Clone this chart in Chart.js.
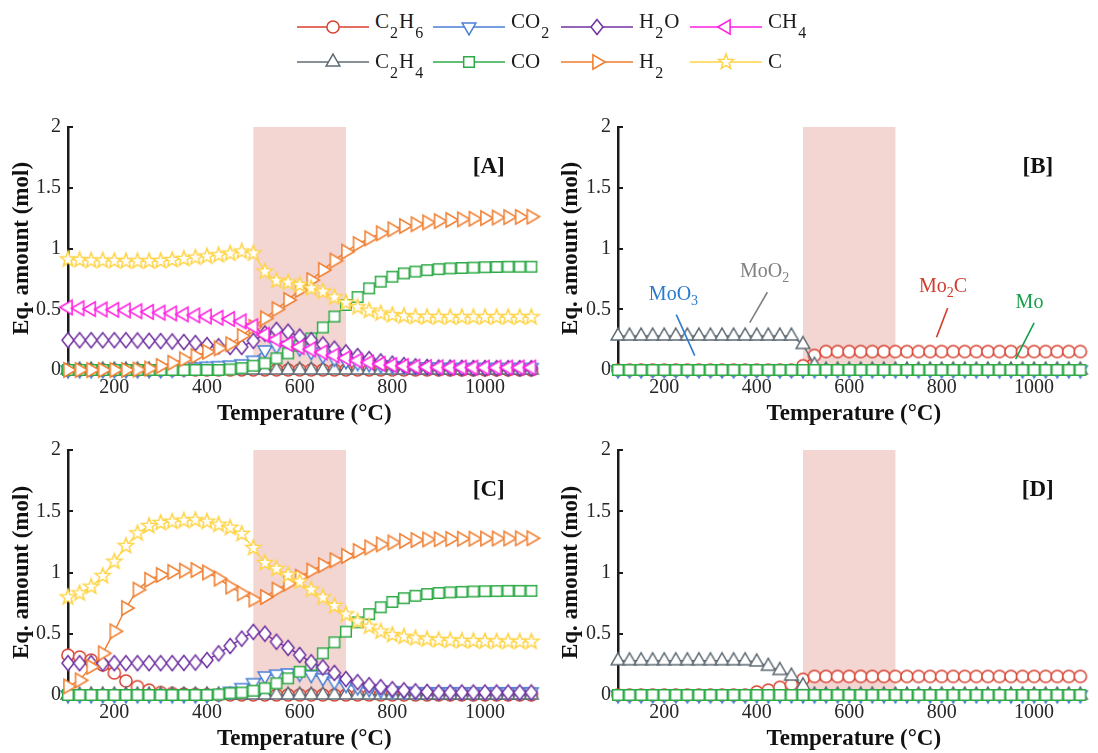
<!DOCTYPE html>
<html>
<head>
<meta charset="utf-8">
<script src="https://cdn.jsdelivr.net/npm/chart.js@4.4.0/dist/chart.umd.min.js"></script>
<style>
  html, body { margin: 0; padding: 0; background: #ffffff; }
  body { width: 1098px; height: 753px; position: relative; overflow: hidden;
         font-family: "Liberation Serif", "Times New Roman", serif; }
  canvas.panel { position: absolute; }
  .leg-mark { position: absolute; }
  .leg-text { position: absolute; font-size: 21px; line-height: 20px; color: #1a1a1a; white-space: nowrap; }
  .leg-text sub { font-size: 16px; position: relative; top: 10px; vertical-align: baseline; line-height: 0; margin: 0 1px; }
</style>
</head>
<body>
<div id="legend"></div>
<canvas id="panelA" class="panel" width="549" height="338" style="left:0px;top:90px"></canvas>
<canvas id="panelB" class="panel" width="549" height="338" style="left:549px;top:90px"></canvas>
<canvas id="panelC" class="panel" width="549" height="340" style="left:0px;top:413px"></canvas>
<canvas id="panelD" class="panel" width="549" height="340" style="left:549px;top:413px"></canvas>
<script>
// ---------- data ----------
const temperature = [100,125,150,175,200,225,250,275,300,325,
                     350,375,400,425,450,475,500,525,550,575,
                     600,625,650,675,700,725,750,775,800,825,
                     850,875,900,925,950,975,1000,1025,1050,1075,
                     1100];
const xTicks = [200, 400, 600, 800, 1000];
const yTicks = [0, 0.5, 1, 1.5, 2];
const transitionWindow = [500, 700];

// [A] gas phase
const A_C2H6 = [0,0,0,0,0,0,0,0,0,0, 0,0,0,0,0,0,0,0,0,0, 0,0,0,0,0,0,0,0,0,0, 0,0,0,0,0,0,0,0,0,0, 0];
const A_C2H4 = [0,0,0,0,0,0,0,0,0,0, 0,0,0,0,0,0,0,0,0,0, 0,0,0,0,0,0,0,0,0,0, 0,0,0,0,0,0,0,0,0,0, 0];
const A_CO2 = [0,0,0,0,0,0,0,0,0,0.005,
               0.01,0.025,0.03,0.035,0.04,0.05,0.08,0.165,0.2,0.2,
               0.18,0.15,0.12,0.095,0.075,0.06,0.05,0.04,0.035,0.03,
               0.025,0.025,0.022,0.02,0.02,0.02,0.02,0.02,0.02,0.02,
               0.02];
const A_CO = [0,0,0,0,0,0,0,0,0,0,
              0,0,0,0,0.005,0.015,0.035,0.055,0.096,0.137,
              0.2,0.26,0.35,0.44,0.535,0.6,0.672,0.727,0.768,0.795,
              0.81,0.822,0.83,0.836,0.84,0.843,0.846,0.848,0.85,0.85,
              0.85];
const A_H2O = [0.245,0.245,0.245,0.245,0.245,0.245,0.243,0.24,0.238,0.235,
               0.23,0.222,0.205,0.195,0.19,0.19,0.24,0.3,0.33,0.315,
               0.275,0.245,0.21,0.175,0.145,0.115,0.09,0.07,0.052,0.04,
               0.03,0.025,0.02,0.02,0.018,0.016,0.015,0.015,0.015,0.015,
               0.015];
const A_H2 = [0,0,0,0,0,0,0.004,0.012,0.033,0.06,
              0.088,0.115,0.15,0.178,0.212,0.28,0.355,0.425,0.5,0.576,
              0.658,0.74,0.823,0.9,0.974,1.037,1.084,1.125,1.158,1.185,
              1.2,1.215,1.225,1.235,1.24,1.245,1.25,1.255,1.258,1.26,
              1.262];
const A_CH4 = [0.515,0.508,0.502,0.498,0.495,0.49,0.484,0.478,0.472,0.466,
               0.458,0.45,0.44,0.43,0.42,0.4,0.36,0.29,0.25,0.215,
               0.19,0.17,0.145,0.12,0.097,0.078,0.062,0.05,0.04,0.032,
               0.027,0.024,0.022,0.02,0.02,0.02,0.02,0.02,0.02,0.02,
               0.02];
const A_C = [0.91,0.905,0.9,0.9,0.898,0.895,0.895,0.895,0.897,0.905,
             0.915,0.925,0.935,0.945,0.958,0.975,0.96,0.81,0.735,0.72,
             0.7,0.672,0.645,0.598,0.554,0.516,0.488,0.466,0.452,0.443,
             0.438,0.436,0.435,0.435,0.435,0.435,0.435,0.435,0.435,0.435,
             0.435];

// [C] gas phase
const C_C2H6 = [0.325,0.31,0.285,0.245,0.18,0.115,0.068,0.04,0.02,0.012,
                0.008,0.005,0.003,0,0,0,0,0,0,0,
                0,0,0,0,0,0,0,0,0,0,
                0,0,0,0,0,0,0,0,0,0,
                0];
const C_C2H4 = [0,0,0,0,0,0,0,0,0,0, 0,0,0,0,0,0,0,0,0,0, 0,0,0,0,0,0,0,0,0,0, 0,0,0,0,0,0,0,0,0,0, 0];
const C_CO2 = [0,0,0,0,0,0,0,0,0,0,
               0,0,0,0.01,0.03,0.06,0.1,0.155,0.17,0.18,
               0.175,0.165,0.14,0.11,0.085,0.065,0.05,0.04,0.035,0.03,
               0.025,0.025,0.025,0.025,0.025,0.025,0.025,0.025,0.025,0.025,
               0.025];
const C_CO = [0,0,0,0,0,0,0,0,0,0,
              0,0,0,0.005,0.015,0.02,0.035,0.055,0.095,0.136,
              0.19,0.245,0.34,0.43,0.517,0.593,0.66,0.716,0.76,0.79,
              0.81,0.824,0.833,0.838,0.842,0.845,0.847,0.848,0.85,0.85,
              0.85];
const C_H2O = [0.26,0.26,0.26,0.258,0.26,0.26,0.26,0.26,0.26,0.26,
               0.262,0.265,0.285,0.34,0.4,0.46,0.515,0.5,0.435,0.385,
               0.327,0.267,0.225,0.18,0.13,0.105,0.08,0.064,0.047,0.038,
               0.03,0.025,0.02,0.02,0.02,0.02,0.02,0.02,0.02,0.02,
               0.02];
const C_H2 = [0.07,0.12,0.23,0.34,0.52,0.71,0.86,0.94,0.98,1.005,
              1.015,1.02,1.0,0.95,0.885,0.83,0.78,0.8,0.86,0.91,
              0.965,1.015,1.06,1.1,1.135,1.175,1.205,1.23,1.245,1.258,
              1.265,1.27,1.272,1.274,1.275,1.276,1.277,1.278,1.278,1.279,
              1.28];
const C_C = [0.797,0.83,0.884,0.971,1.088,1.216,1.32,1.38,1.405,1.415,
             1.423,1.428,1.415,1.39,1.365,1.315,1.2,1.078,1.03,0.98,
             0.925,0.86,0.796,0.727,0.658,0.6,0.558,0.518,0.49,0.476,
             0.463,0.455,0.449,0.445,0.442,0.44,0.438,0.437,0.436,0.435,
             0.435];

// [B] solid phase
const B_Mo2C = [0,0,0,0,0,0,0,0,0,0,
                0,0,0,0,0,0,0.035,0.12,0.152,0.152,
                0.152,0.152,0.152,0.152,0.152,0.152,0.152,0.152,0.152,0.152,
                0.152,0.152,0.152,0.152,0.152,0.152,0.152,0.152,0.152,0.152,
                0.152];
const B_MoO2 = [0.28,0.28,0.28,0.28,0.28,0.28,0.28,0.28,0.28,0.28,
                0.28,0.28,0.28,0.28,0.28,0.28,0.21,0.04,0,0,
                0,0,0,0,0,0,0,0,0,0,
                0,0,0,0,0,0,0,0,0,0,
                0];
const B_MoO3 = [0,0,0,0,0,0,0,0,0,0, 0,0,0,0,0,0,0,0,0,0, 0,0,0,0,0,0,0,0,0,0, 0,0,0,0,0,0,0,0,0,0, 0];
const B_Mo = [0,0,0,0,0,0,0,0,0,0, 0,0,0,0,0,0,0,0,0,0, 0,0,0,0,0,0,0,0,0,0, 0,0,0,0,0,0,0,0,0,0, 0];

// [D] solid phase
const D_Mo2C = [0,0,0,0,0,0,0,0,0,0,
                0,0,0.025,0.04,0.063,0.087,0.128,0.152,0.152,0.152,
                0.152,0.152,0.152,0.152,0.152,0.152,0.152,0.152,0.152,0.152,
                0.152,0.152,0.152,0.152,0.152,0.152,0.152,0.152,0.152,0.152,
                0.152];
const D_MoO2 = [0.28,0.28,0.28,0.28,0.28,0.28,0.28,0.28,0.28,0.28,
                0.28,0.28,0.27,0.235,0.2,0.155,0.075,0,0,0,
                0,0,0,0,0,0,0,0,0,0,
                0,0,0,0,0,0,0,0,0,0,
                0];
const D_MoO3 = [0,0,0,0,0,0,0,0,0,0, 0,0,0,0,0,0,0,0,0,0, 0,0,0,0,0,0,0,0,0,0, 0,0,0,0,0,0,0,0,0,0, 0];
const D_Mo = [0,0,0,0,0,0,0,0,0,0, 0,0,0,0,0,0,0,0,0,0, 0,0,0,0,0,0,0,0,0,0, 0,0,0,0,0,0,0,0,0,0, 0];

// ---------- styles ----------
const SERIF = '"Liberation Serif", "Times New Roman", serif';
const looks = {
  red:    { color: '#D7402F', marker: 'circle' },
  gray:   { color: '#5F6B73', marker: 'triangleUp' },
  blue:   { color: '#4A7FD6', marker: 'triangleDown' },
  green:  { color: '#2EAA47', marker: 'square' },
  purple: { color: '#7030A0', marker: 'diamond' },
  orange: { color: '#F07D2E', marker: 'triangleRight' },
  pink:   { color: '#FF1FDF', marker: 'triangleLeft' },
  yellow: { color: '#FFD447', marker: 'star' }
};

// species in drawing order (first drawn at the bottom)
const gasSpecies = ['C2H6', 'C2H4', 'CO2', 'CO', 'H2O', 'H2', 'CH4', 'C'];
const gasLooks = ['red', 'gray', 'blue', 'green', 'purple', 'orange', 'pink', 'yellow'];
const solidSpecies = ['Mo2C', 'MoO2', 'MoO3', 'Mo'];
const solidLooks = ['red', 'gray', 'blue', 'green'];

// ---------- marker glyphs ----------
function traceMarker(ctx, shape, cx, cy) {
  ctx.beginPath();
  const tri = (R, a) => {
    for (let k = 0; k < 3; k++) {
      const ang = a + k * 2 * Math.PI / 3;
      const px = cx + R * Math.cos(ang), py = cy + R * Math.sin(ang);
      if (k === 0) ctx.moveTo(px, py); else ctx.lineTo(px, py);
    }
    ctx.closePath();
  };
  switch (shape) {
    case 'circle': ctx.arc(cx, cy, 6.1, 0, Math.PI * 2); break;
    case 'square': ctx.rect(cx - 5.3, cy - 5.3, 10.6, 10.6); break;
    case 'diamond':
      ctx.moveTo(cx, cy - 7.5); ctx.lineTo(cx + 6, cy); ctx.lineTo(cx, cy + 7.5); ctx.lineTo(cx - 6, cy); ctx.closePath(); break;
    case 'triangleUp': tri(7.9, -Math.PI / 2); break;
    case 'triangleDown': tri(7.9, Math.PI / 2); break;
    case 'triangleRight': tri(8.2, 0); break;
    case 'triangleLeft': tri(8.2, Math.PI); break;
    case 'star':
      for (let k = 0; k < 10; k++) {
        const r = k % 2 === 0 ? 8.0 : 3.3;
        const ang = -Math.PI / 2 + k * Math.PI / 5;
        const px = cx + r * Math.cos(ang), py = cy + r * Math.sin(ang);
        if (k === 0) ctx.moveTo(px, py); else ctx.lineTo(px, py);
      }
      ctx.closePath(); break;
  }
}
function strokeMarker(ctx, shape, color, cx, cy) {
  traceMarker(ctx, shape, cx, cy);
  ctx.fillStyle = '#ffffff';
  ctx.fill();
  ctx.strokeStyle = color;
  ctx.lineWidth = 1.5;
  ctx.lineJoin = 'miter';
  ctx.stroke();
}
const glyphCache = {};
function markerImage(shape, color) {
  const key = shape + color;
  if (!glyphCache[key]) {
    const c = document.createElement('canvas');
    c.width = 22; c.height = 22;
    strokeMarker(c.getContext('2d'), shape, color, 11, 11);
    glyphCache[key] = c;
  }
  return glyphCache[key];
}

// text with numeric subscripts on a canvas, centred on (cx, cy)
function drawChem(ctx, text, cx, cy, size, color, weight) {
  const parts = text.split(/(\d+)/).filter(Boolean).map(t => ({ t, sub: /^\d+$/.test(t) }));
  const mainFont = (weight || '') + ' ' + size + 'px ' + SERIF;
  const subFont = Math.round(size * 0.68) + 'px ' + SERIF;
  let w = 0;
  parts.forEach(p => { ctx.font = p.sub ? subFont : mainFont; p.w = ctx.measureText(p.t).width; w += p.w; });
  let x = cx - w / 2;
  const base = cy + size * 0.33;
  ctx.fillStyle = color;
  ctx.textBaseline = 'alphabetic';
  ctx.textAlign = 'left';
  parts.forEach(p => {
    ctx.font = p.sub ? subFont : mainFont;
    ctx.fillText(p.t, x, p.sub ? base + size * 0.25 : base);
    x += p.w;
  });
}

// ---------- plugins ----------
const windowBand = {
  id: 'windowBand',
  beforeDatasetsDraw(chart) {
    const { ctx, chartArea, scales: { x } } = chart;
    const x0 = x.getPixelForValue(transitionWindow[0]);
    const x1 = x.getPixelForValue(transitionWindow[1]);
    ctx.save();
    ctx.fillStyle = '#F3D5D2';
    ctx.fillRect(x0, chartArea.top, x1 - x0, chartArea.bottom - chartArea.top);
    ctx.restore();
  }
};
const innerTicks = {
  id: 'innerTicks',
  beforeDatasetsDraw(chart) {
    const { ctx, chartArea, scales: { y } } = chart;
    ctx.save();
    ctx.strokeStyle = '#1a1a1a';
    ctx.lineWidth = 2;
    y.ticks.forEach(t => {
      const py = Math.round(y.getPixelForValue(t.value));
      ctx.beginPath();
      ctx.moveTo(chartArea.left, py);
      ctx.lineTo(chartArea.left + 5, py);
      ctx.stroke();
    });
    ctx.restore();
  }
};
const panelNotes = {
  id: 'panelNotes',
  afterDatasetsDraw(chart, args, opts) {
    const { ctx, scales: { x, y } } = chart;
    ctx.save();
    if (opts.tag) {
      ctx.font = 'bold 23px ' + SERIF;
      ctx.fillStyle = '#111111';
      ctx.textAlign = 'center';
      ctx.textBaseline = 'middle';
      ctx.fillText(opts.tag, x.getPixelForValue(1008), y.getPixelForValue(1.67));
    }
    (opts.phases || []).forEach(n => {
      ctx.strokeStyle = n.color;
      ctx.lineWidth = 1.6;
      ctx.beginPath();
      ctx.moveTo(x.getPixelForValue(n.leader[0][0]), y.getPixelForValue(n.leader[0][1]));
      ctx.lineTo(x.getPixelForValue(n.leader[1][0]), y.getPixelForValue(n.leader[1][1]));
      ctx.stroke();
      drawChem(ctx, n.text, x.getPixelForValue(n.at[0]), y.getPixelForValue(n.at[1]), 20, n.color);
    });
    ctx.restore();
  }
};

// phase labels on the solid-phase panel
const phaseLabels = [
  { text: 'MoO3', color: '#2A7BD0', at: [220, 0.63],  leader: [[226, 0.456], [266, 0.118]] },
  { text: 'MoO2', color: '#808080', at: [417, 0.82],  leader: [[423, 0.64],  [385, 0.39]] },
  { text: 'Mo2C', color: '#D03B2B', at: [803, 0.695], leader: [[813, 0.51],  [789, 0.27]] },
  { text: 'Mo',   color: '#15A04A', at: [990, 0.566], leader: [[1000, 0.387], [960, 0.09]] }
];

// ---------- panels ----------
Chart.defaults.font.family = SERIF;

function buildPanel(id, tag, names, lookKeys, seriesValues, axisWidth, phases) {
  const n = names.length;
  const datasets = names.map((name, i) => {
    const look = looks[lookKeys[i]];
    return {
      label: name,
      data: temperature.map((t, k) => ({ x: t, y: seriesValues[i][k] })),
      borderColor: look.color,
      backgroundColor: look.color,
      borderWidth: 1.4,
      pointStyle: markerImage(look.marker, look.color),
      pointRadius: 7,
      pointHoverRadius: 7,
      tension: 0,
      fill: false,
      clip: false,
      order: n - 1 - i
    };
  });
  return new Chart(document.getElementById(id), {
    type: 'line',
    data: { datasets },
    options: {
      responsive: false,
      animation: false,
      events: [],
      layout: { padding: { top: 37, right: 2, bottom: 0, left: 0 } },
      plugins: {
        legend: { display: false },
        tooltip: { enabled: false },
        panelNotes: { tag, phases }
      },
      scales: {
        x: {
          type: 'linear', min: 100, max: 1120,
          afterBuildTicks: s => { s.ticks = xTicks.map(v => ({ value: v })); },
          afterFit: s => { s.height = 58; },
          grid: { display: false, drawTicks: false },
          border: { display: false },
          ticks: { font: { size: 20 }, color: '#262626', padding: 6, maxRotation: 0, autoSkip: false,
                   callback: v => String(v) },
          title: { display: true, text: 'Temperature (°C)', color: '#111111',
                   font: { size: 23, weight: 'bold' }, padding: { top: 0, bottom: 0 } }
        },
        y: {
          type: 'linear', min: 0, max: 2,
          afterBuildTicks: s => { s.ticks = yTicks.map(v => ({ value: v })); },
          afterFit: s => { s.width = axisWidth; },
          grid: { display: false, drawTicks: false },
          border: { display: true, color: '#1a1a1a', width: 2.5 },
          ticks: { font: { size: 20 }, color: '#262626', padding: 7, callback: v => String(v) },
          title: { display: true, text: 'Eq. amount (mol)', color: '#111111',
                   font: { size: 23, weight: 'bold' }, padding: { top: 8, bottom: 0 } }
        }
      }
    },
    plugins: [windowBand, innerTicks, panelNotes]
  });
}

buildPanel('panelA', '[A]', gasSpecies, gasLooks,
  [A_C2H6, A_C2H4, A_CO2, A_CO, A_H2O, A_H2, A_CH4, A_C], 68, []);
buildPanel('panelB', '[B]', solidSpecies, solidLooks,
  [B_Mo2C, B_MoO2, B_MoO3, B_Mo], 69, phaseLabels);
buildPanel('panelC', '[C]', gasSpecies.filter(s => s !== 'CH4'), gasLooks.filter(l => l !== 'pink'),
  [C_C2H6, C_C2H4, C_CO2, C_CO, C_H2O, C_H2, C_C], 68, []);
buildPanel('panelD', '[D]', solidSpecies, solidLooks,
  [D_Mo2C, D_MoO2, D_MoO3, D_Mo], 69, []);

// ---------- legend (two rows, filled column by column) ----------
const legendColumnsX = [297, 433, 561, 690];
const legendRowsY = [27, 62];
const legendEntryWidth = 72;
const legendHost = document.getElementById('legend');
gasSpecies.forEach((name, i) => {
  const col = Math.floor(i / 2), row = i % 2;
  const look = looks[gasLooks[i]];
  const x0 = legendColumnsX[col], yc = legendRowsY[row];
  const c = document.createElement('canvas');
  c.className = 'leg-mark';
  c.width = legendEntryWidth; c.height = 22;
  c.style.left = x0 + 'px';
  c.style.top = (yc - 11) + 'px';
  const g = c.getContext('2d');
  g.strokeStyle = look.color;
  g.lineWidth = 1.4;
  g.beginPath(); g.moveTo(0, 11); g.lineTo(legendEntryWidth, 11); g.stroke();
  strokeMarker(g, look.marker, look.color, legendEntryWidth / 2, 11);
  legendHost.appendChild(c);
  const t = document.createElement('div');
  t.className = 'leg-text';
  t.style.left = (x0 + legendEntryWidth + 6) + 'px';
  t.style.top = (row === 0 ? 11 : 51) + 'px';
  t.innerHTML = name.replace(/(\d+)/g, '<sub>$1</sub>');
  legendHost.appendChild(t);
});
</script>
</body>
</html>
